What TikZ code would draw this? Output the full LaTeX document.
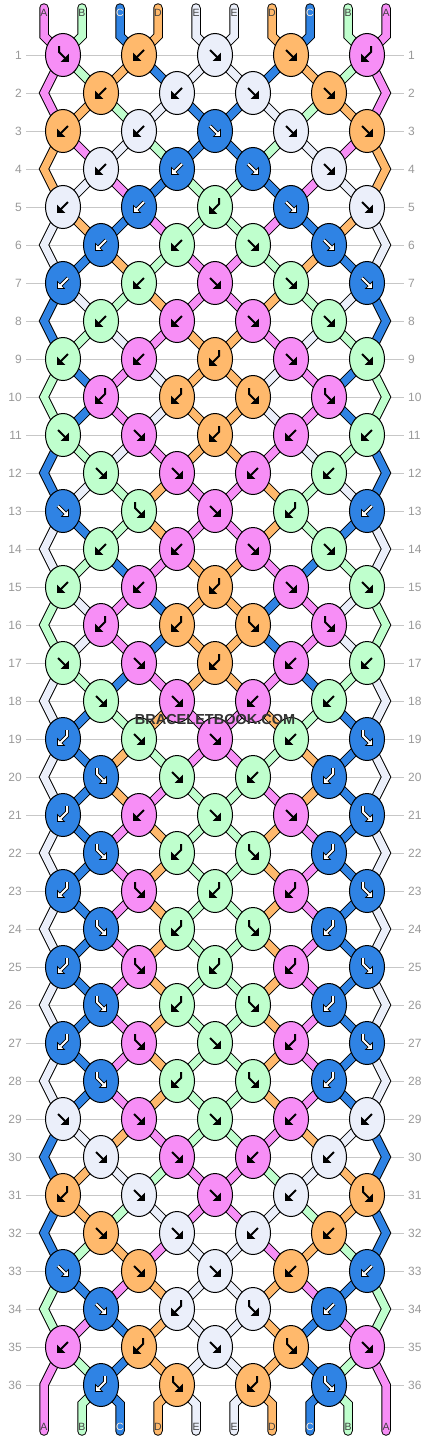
\documentclass[tikz,border=0pt]{standalone}
\usepackage{fontspec}
\setmainfont{Liberation Sans}
\usetikzlibrary{shapes.geometric}

\definecolor{cA}{HTML}{F78EF6}
\definecolor{cB}{HTML}{BFFFCD}
\definecolor{cC}{HTML}{2F83E4}
\definecolor{cD}{HTML}{FFB96C}
\definecolor{cE}{HTML}{EBEFFA}
\colorlet{gA}{black}
\colorlet{gB}{black}
\colorlet{gC}{white}
\colorlet{gD}{black}
\colorlet{gE}{black}

\pgfdeclarelayer{back}
\pgfdeclarelayer{strands}
\pgfsetlayers{back,strands,main}

\tikzset{
  halo A/.style={draw=none}, halo B/.style={draw=none}, halo D/.style={draw=none},
  halo E/.style={draw=none}, halo C/.style={draw=black, line width=3.8pt},
  ink/.style={draw=g#1, line width=2pt},
  head/.style={fill=g#1, draw=black, line width=0.7pt},
  % forward and backward knots
  pics/gF/.style={code={
    \draw[halo #1] (-5,-5) -- (2,2);
    \filldraw[head=#1] (5.5,5.5) -- (5.5,-1.5) -- (-1.5,5.5) -- cycle;
    \draw[ink=#1] (-5,-5) -- (2.4,2.4);
  }},
  pics/gB/.style={code={\pic[xscale=-1] {gF=#1};}},
  % forward-backward and backward-forward knots
  pics/gFB/.style={code={
    \draw[halo #1] (-4,-9) -- (-4,-3) -- (2,3);
    \filldraw[head=#1] (5.5,6.5) -- (5.5,-0.5) -- (-1.5,6.5) -- cycle;
    \draw[ink=#1] (-4,-9) -- (-4,-3) -- (2.4,3.4);
  }},
  pics/gBF/.style={code={\pic[xscale=-1] {gFB=#1};}},
}

\newcommand\drawstrands{%
  % loose ends at the top
  \foreach \col [count=\p] in {A,B,C,D,E,E,D,C,B,A} {
    \pgfmathtruncatemacro\src{(\p+1)/2}
    \draw[strand=\col, line cap=round] ([yshift=5pt]t-\p.center) -- ([yshift=-23pt]t-\p.center) -- (k-1-\src.center);
  }
  % strands between two rows of knots
  \foreach \rw/\st in {
    1/{A,B,D,C,E,E,C,D,B,A}, 2/{A,D,B,E,C,C,E,B,D,A}, 3/{D,A,E,B,C,C,B,E,A,D},
    4/{D,E,A,C,B,B,C,A,E,D}, 5/{E,D,C,A,B,B,A,C,D,E}, 6/{E,C,D,B,A,A,B,D,C,E},
    7/{C,E,B,D,A,A,D,B,E,C}, 8/{C,B,E,A,D,D,A,E,B,C}, 9/{B,C,A,E,D,D,E,A,C,B},
    10/{B,C,A,E,D,D,E,A,C,B}, 11/{C,B,E,A,D,D,A,E,B,C}, 12/{C,E,B,D,A,A,D,B,E,C},
    13/{E,C,B,D,A,A,D,B,C,E}, 14/{E,B,C,A,D,D,A,C,B,E}, 15/{B,E,A,C,D,D,C,A,E,B},
    16/{B,E,A,C,D,D,C,A,E,B}, 17/{E,B,C,A,D,D,A,C,B,E}, 18/{E,C,B,D,A,A,D,B,C,E},
    19/{E,C,D,B,A,A,B,D,C,E}, 20/{E,C,D,A,B,B,A,D,C,E}, 21/{E,C,A,D,B,B,D,A,C,E},
    22/{E,C,A,D,B,B,D,A,C,E}, 23/{E,C,A,D,B,B,D,A,C,E}, 24/{E,C,A,D,B,B,D,A,C,E},
    25/{E,C,A,D,B,B,D,A,C,E}, 26/{E,C,A,D,B,B,D,A,C,E}, 27/{E,C,A,D,B,B,D,A,C,E},
    28/{E,C,A,D,B,B,D,A,C,E}, 29/{C,E,D,A,B,B,A,D,E,C}, 30/{C,D,E,B,A,A,B,E,D,C},
    31/{C,D,B,E,A,A,E,B,D,C}, 32/{C,B,D,A,E,E,A,D,B,C}, 33/{B,C,A,D,E,E,D,A,C,B},
    34/{B,A,C,D,E,E,D,C,A,B}, 35/{A,B,C,D,E,E,D,C,B,A}} {
    \pgfmathtruncatemacro\odd{mod(\rw,2)}
    \pgfmathtruncatemacro\nx{\rw+1}
    \pgfmathtruncatemacro\nxx{\rw+2}
    \foreach \col [count=\p] in \st {
      \pgfmathtruncatemacro\side{(\p==1)||(\p==10)}
      \ifnum\odd=1
        \pgfmathtruncatemacro\src{(\p+1)/2}
        \ifnum\side=1
          \ifnum\rw<35
            \ifnum\p=1 \def\sd{L}\else\def\sd{R}\fi
            \draw[strand=\col] (k-\rw-\src.center) -- (e\sd-\nx) -- (k-\nxx-\src.center);
          \fi
        \else
          \pgfmathtruncatemacro\dst{\p/2}
          \draw[strand=\col] (k-\rw-\src.center) -- (k-\nx-\dst.center);
        \fi
      \else
        \ifnum\side=0
          \pgfmathtruncatemacro\src{\p/2}
          \pgfmathtruncatemacro\dst{(\p+1)/2}
          \draw[strand=\col] (k-\rw-\src.center) -- (k-\nx-\dst.center);
        \fi
      \fi
    }
  }
  % loose ends at the bottom
  \foreach \col [count=\p] in {A,B,C,D,E,E,D,C,B,A} {
    \ifnum\p=1
      \draw[strand=\col, line cap=round] (k-35-1.center) -- ([yshift=42pt]b-\p.center) -- ([yshift=-4pt]b-\p.center);
    \else\ifnum\p=10
      \draw[strand=\col, line cap=round] (k-35-5.center) -- ([yshift=42pt]b-\p.center) -- ([yshift=-4pt]b-\p.center);
    \else
      \pgfmathtruncatemacro\src{\p/2}
      \draw[strand=\col, line cap=round] (k-36-\src.center) -- ([yshift=23pt]b-\p.center) -- ([yshift=-4pt]b-\p.center);
    \fi\fi
  }
}

\begin{document}
\begin{tikzpicture}[x=1pt, y=-1pt,
  knot/.style={ellipse, draw=black, line width=1pt, minimum width=35pt, minimum height=43pt, inner sep=0pt, fill=c#1},
  rownum/.style={text=black!40, font=\fontsize{12}{12}\selectfont, inner xsep=4pt},
  tag/.style={text=black!75, font=\fontsize{10.5}{10.5}\selectfont, inner sep=0pt},
  rowline/.style={draw=black!22, line width=1pt}]

  \begin{pgfonlayer}{back}
    \path[use as bounding box, fill=white] (0,0) rectangle (430,1440);
    \foreach \rw in {1,...,36} {
      \node[rownum, anchor=east] (nl-\rw) at (26,{55+38*(\rw-1)}) {\rw};
      \node[rownum, anchor=west] (nr-\rw) at (404,{55+38*(\rw-1)}) {\rw};
      \draw[rowline] (nl-\rw.east) -- (nr-\rw.west);
    }
  \end{pgfonlayer}

  % string names
  \foreach \col [count=\p] in {A,B,C,D,E,E,D,C,B,A} {
    \node[tag] (t-\p) at ({44+38*(\p-1)},13) {\col};
    \node[tag] (b-\p) at ({44+38*(\p-1)},1427) {\col};
  }
  \node[tag, text=white] at (t-3) {C};
  \node[tag, text=white] at (t-8) {C};
  \node[tag, text=white] at (b-3) {C};
  \node[tag, text=white] at (b-8) {C};

  % knots: colour/type, F forward, B backward, FB and BF
  \foreach \rw/\row in {
    1/{A/FB,D/B,E/F,D/F,A/BF}, 2/{D/B,E/B,E/F,D/F},
    3/{D/B,E/B,C/F,E/F,D/F}, 4/{E/B,C/B,C/F,E/F},
    5/{E/B,C/B,B/BF,C/F,E/F}, 6/{C/B,B/B,B/F,C/F},
    7/{C/B,B/B,A/F,B/F,C/F}, 8/{B/B,A/B,A/F,B/F},
    9/{B/B,A/B,D/BF,A/F,B/F}, 10/{A/BF,D/BF,D/FB,A/FB},
    11/{B/F,A/F,D/BF,A/B,B/B}, 12/{B/F,A/F,A/B,B/B},
    13/{C/F,B/FB,A/F,B/BF,C/B}, 14/{B/B,A/B,A/F,B/F},
    15/{B/B,A/B,D/BF,A/F,B/F}, 16/{A/BF,D/BF,D/FB,A/FB},
    17/{B/F,A/F,D/BF,A/B,B/B}, 18/{B/F,A/F,A/B,B/B},
    19/{C/BF,B/F,A/F,B/B,C/FB}, 20/{C/FB,B/F,B/B,C/BF},
    21/{C/BF,A/B,B/F,A/F,C/FB}, 22/{C/FB,B/BF,B/FB,C/BF},
    23/{C/BF,A/FB,B/BF,A/BF,C/FB}, 24/{C/FB,B/BF,B/FB,C/BF},
    25/{C/BF,A/FB,B/BF,A/BF,C/FB}, 26/{C/FB,B/BF,B/FB,C/BF},
    27/{C/BF,A/FB,B/F,A/BF,C/FB}, 28/{C/FB,B/BF,B/FB,C/BF},
    29/{E/F,A/F,B/F,A/B,E/B}, 30/{E/F,A/F,A/B,E/B},
    31/{D/BF,E/F,A/F,E/B,D/FB}, 32/{D/F,E/F,E/B,D/B},
    33/{C/F,D/F,E/F,D/B,C/B}, 34/{C/F,E/BF,E/FB,C/B},
    35/{A/B,D/BF,E/F,D/FB,A/F}, 36/{C/BF,D/FB,D/BF,C/FB}} {
    \pgfmathtruncatemacro\odd{mod(\rw,2)}
    \foreach \col/\ty [count=\i] in \row {
      \node[knot=\col] (k-\rw-\i) at ({101-38*\odd+76*(\i-1)},{55+38*(\rw-1)}) {};
      \pic at (k-\rw-\i) {g\ty=\col};
    }
  }

  % turning points of the edge strings
  \foreach \rw in {2,4,...,34} {
    \coordinate (eL-\rw) at (44,{55+38*(\rw-1)});
    \coordinate (eR-\rw) at (386,{55+38*(\rw-1)});
  }

  \begin{pgfonlayer}{strands}
    \begin{scope}[strand/.style={draw=black, line width=9.5pt}]
      \drawstrands
    \end{scope}
    \begin{scope}[strand/.style={draw=c#1, line width=7.5pt}]
      \drawstrands
    \end{scope}
  \end{pgfonlayer}

  \node[text=black!80, font=\bfseries\fontsize{14.5}{14.5}\selectfont] (mark) at (215,719) {BRACELETBOOK.COM};
\end{tikzpicture}
\end{document}
